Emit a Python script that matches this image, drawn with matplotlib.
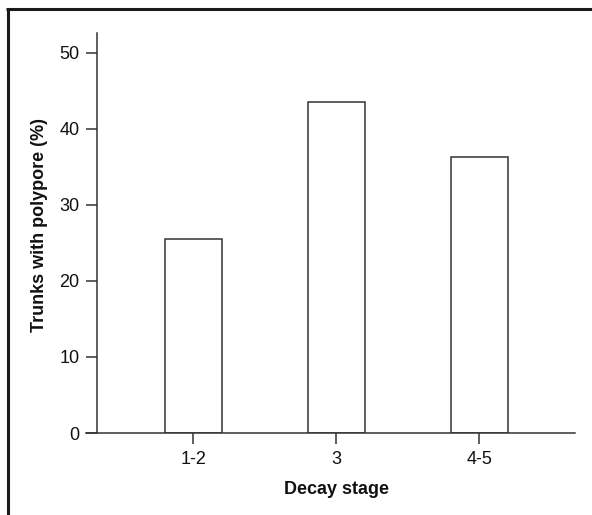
import matplotlib
matplotlib.use("Agg")
import matplotlib.pyplot as plt
from matplotlib.lines import Line2D

stages = ["1-2", "3", "4-5"]
pct_with_polypore = [25.5, 43.5, 36.3]

plt.rcParams["font.family"] = ["Liberation Sans", "DejaVu Sans"]

W, H = 592, 515
fig = plt.figure(figsize=(W / 100, H / 100), dpi=100)
ax = fig.add_axes([86 / W, 1 - 433 / H, (575 - 86) / W, (433 - 33) / H])

dark = "#333333"
x = list(range(len(stages)))
ax.bar(x, pct_with_polypore, width=0.4, facecolor="white", edgecolor=dark, linewidth=1.1)

ax.set_xlim(-0.75, 2.67)
ax.set_ylim(0, 52.6)
ax.spines["top"].set_visible(False)
ax.spines["right"].set_visible(False)
ax.spines["left"].set_position(("data", -0.67))
for s in ("left", "bottom"):
    ax.spines[s].set_color(dark)
    ax.spines[s].set_linewidth(1.1)

ax.set_xticks(x)
ax.set_xticklabels(stages)
ax.set_yticks([0, 10, 20, 30, 40, 50])
ax.tick_params(axis="both", direction="out", length=8, width=1.1, color=dark,
               labelsize=13, labelcolor="#111111", pad=5)

ax.set_xlabel("Decay stage", fontsize=13, fontweight="bold", color="#111111")
ax.xaxis.set_label_coords(0.513, -0.12)
ax.set_ylabel("Trunks with polypore (%)", fontsize=13, fontweight="bold", color="#111111")
ax.yaxis.set_label_coords(-0.078, 0.52)

# outer frame (top and left edge only)
fig.add_artist(Line2D([7.5 / W, 7.5 / W], [0, 1 - 8.5 / H], transform=fig.transFigure,
                      color="#1a1a1a", linewidth=2.2, solid_capstyle="butt"))
fig.add_artist(Line2D([6.4 / W, 1], [1 - 8.5 / H, 1 - 8.5 / H], transform=fig.transFigure,
                      color="#1a1a1a", linewidth=2.2, solid_capstyle="butt"))

fig.savefig("out.png", dpi=100)
plt.close(fig)
